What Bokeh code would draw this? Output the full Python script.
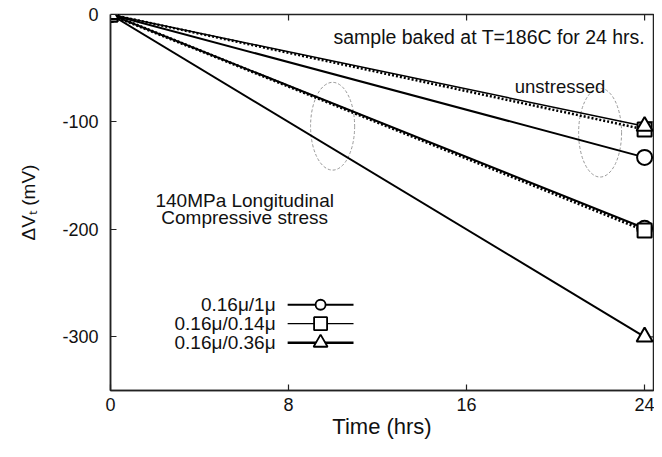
from bokeh.plotting import figure
from bokeh.models import Range1d, FixedTicker
from bokeh.core.properties import value
from bokeh.embed import file_html
from bokeh.resources import INLINE

# ---- data ----
time = [0, 24]
unstressed_circle = [0, -133]
unstressed_square = [0, -107]
unstressed_triangle = [0, -104]
stressed_circle = [0, -199]
stressed_square = [0, -201]
stressed_triangle = [0, -300]

legend_labels = ["0.16\u03bc/1\u03bc", "0.16\u03bc/0.14\u03bc", "0.16\u03bc/0.36\u03bc"]
x_ticks = [0, 8, 16, 24]
y_ticks = [0, -100, -200, -300]

X_MAX = 24.4
FONT = value("Liberation Sans")
AX = "#222222"

p = figure(width=654, height=441, output_backend="svg", toolbar_location=None,
           x_range=Range1d(0, X_MAX), y_range=Range1d(-350, 0),
           min_border_left=110, min_border_right=1, min_border_top=14, min_border_bottom=50)
p.grid.visible = False
p.background_fill_color = "white"
p.border_fill_color = "white"
p.outline_line_color = AX
p.outline_line_width = 1.5

for ax in (p.xaxis[0], p.yaxis[0]):
    ax.major_tick_in = 6
    ax.major_tick_out = 0
    ax.minor_tick_line_color = None
    ax.axis_line_color = AX
    ax.axis_line_width = 1.5
    ax.major_tick_line_color = AX
    ax.major_tick_line_width = 1.2
    ax.major_label_text_font = "Liberation Sans"
    ax.major_label_text_font_size = "18px"
    ax.major_label_text_color = "#111111"
    ax.axis_label_text_font = "Liberation Sans"
    ax.axis_label_text_font_style = "normal"
    ax.axis_label_text_color = "#111111"

p.xaxis.ticker = FixedTicker(ticks=x_ticks)
p.yaxis.ticker = FixedTicker(ticks=y_ticks)
p.xaxis.major_label_overrides = {t: str(t) for t in x_ticks}
p.yaxis.major_label_overrides = {t: str(t) for t in y_ticks}
p.xaxis.major_label_standoff = 7
p.yaxis.major_label_standoff = 12
p.xaxis.axis_label = "Time (hrs)"
p.xaxis.axis_label_text_font_size = "22px"
p.xaxis.axis_label_standoff = 0
p.yaxis.axis_label = "\u0394V\u209c (mV)"
p.yaxis.axis_label_text_font_size = "19px"
p.yaxis.axis_label_standoff = 20

# mirrored inward ticks on the top and right borders
top_len = 6 / 1.075
right_len = 6 / 22.25
p.segment(x0=x_ticks, y0=[0] * len(x_ticks), x1=x_ticks, y1=[-top_len] * len(x_ticks),
          line_color=AX, line_width=1.2)
p.segment(x0=[X_MAX] * len(y_ticks), y0=y_ticks, x1=[X_MAX - right_len] * len(y_ticks),
          y1=y_ticks, line_color=AX, line_width=1.2)

# dashed ellipses
p.ellipse(x=[9.98, 22.0], y=[-104, -110], width=[1.98, 1.93], height=[81.7, 82.6],
          fill_color=None, line_color="#999999", line_width=1, line_dash="3 2")

# lines
p.line(time, unstressed_triangle, line_color="black", line_width=1.5)
p.line(time, unstressed_square, line_color="black", line_width=2.5, line_dash="2 2")
p.line(time, unstressed_circle, line_color="black", line_width=2)
p.line(time, stressed_circle, line_color="black", line_width=2)
p.line(time, stressed_square, line_color="black", line_width=3, line_dash="2 2")
p.line(time, stressed_triangle, line_color="black", line_width=2)

# markers
mk = dict(line_color="black", line_width=2, fill_color="white")
p.scatter(time, unstressed_circle, marker="circle", size=15, **mk)
p.scatter(time, stressed_circle, marker="circle", size=15, **mk)
p.scatter(time, unstressed_square, marker="square", size=14, **mk)
p.scatter(time, stressed_square, marker="square", size=14, **mk)
p.scatter(time, unstressed_triangle, marker="triangle", size=16, **mk)
p.scatter(time, stressed_triangle, marker="triangle", size=16, **mk)

# annotations
p.text(x=[10.02], y=[-21], text=["sample baked at T=186C for 24 hrs."],
       text_font=FONT, text_font_size="19.5px", text_align="left",
       text_baseline="alphabetic", text_color="#111111")
p.text(x=[20.2], y=[-67], text=["unstressed"],
       text_font=FONT, text_font_size="18.5px", text_align="center",
       text_baseline="alphabetic", text_color="#111111")
p.text(x=[6.03, 6.03], y=[-172.7, -189.4],
       text=["140MPa Longitudinal", "Compressive stress"],
       text_font=FONT, text_font_size="19px", text_align="center",
       text_baseline="alphabetic", text_color="#111111")

# legend (labels to the left of the samples)
leg_y = [-270.2, -287.8, -305.5]
leg_markers = ["circle", "square", "triangle"]
leg_sizes = [10, 13, 14]
leg_widths = [2, 1.3, 2.5]
p.text(x=[7.42] * 3, y=leg_y, text=legend_labels, text_font=FONT,
       text_font_size="19px", text_align="right", text_baseline="middle",
       text_color="#111111")
for yy, m, s, w in zip(leg_y, leg_markers, leg_sizes, leg_widths):
    p.line([7.96, 10.92], [yy, yy], line_color="black", line_width=w)
    p.scatter([9.44], [yy], marker=m, size=s, line_color="black", line_width=1.8,
              fill_color="white")

open("out.html", "w").write(file_html(p, INLINE))
